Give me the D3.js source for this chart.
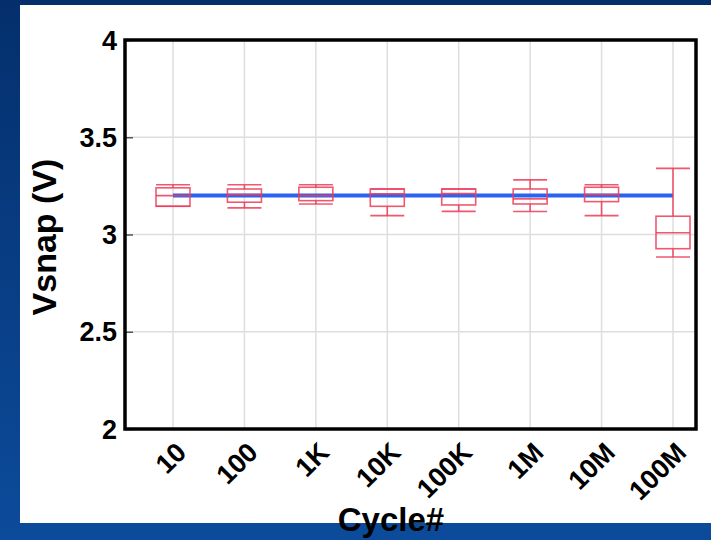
<!DOCTYPE html>
<meta charset="utf-8">
<head>
  <title>Vsnap vs cycle</title>
</head>

<style>
body {
  margin: 0;
  font-family: "Liberation Sans", Arial, sans-serif;
}
text {
  fill: #000;
  font-weight: bold;
}
</style>

<body>
  <svg id="chart" width="711" height="540"></svg>

  <script src="https://cdnjs.cloudflare.com/ajax/libs/d3/7.8.5/d3.min.js"></script>

  <script>
  var categories = ['10', '100', '1K', '10K', '100K', '1M', '10M', '100M'];
  var whiskerHigh = [3.256, 3.256, 3.256, 3.234, 3.234, 3.281, 3.256, 3.340];
  var q3 = [3.240, 3.234, 3.243, 3.234, 3.234, 3.234, 3.243, 3.094];
  var median = [3.200, 3.205, 3.200, 3.209, 3.210, 3.183, 3.205, 3.009];
  var q1 = [3.145, 3.166, 3.174, 3.145, 3.152, 3.157, 3.169, 2.927];
  var whiskerLow = [3.145, 3.137, 3.157, 3.097, 3.119, 3.118, 3.097, 2.884];
  var meanLine = [3.2, 3.2, 3.2, 3.2, 3.2, 3.2, 3.2, 3.2];
  var yTicks = [2, 2.5, 3, 3.5, 4];

  var svg = d3.select('#chart');

  // slide background
  var defs = svg.append('defs');
  var grad = defs.append('linearGradient')
    .attr('id', 'bg')
    .attr('x1', 0).attr('y1', 0).attr('x2', 0).attr('y2', 1);
  grad.append('stop').attr('offset', '0%').attr('stop-color', '#042f6c');
  grad.append('stop').attr('offset', '100%').attr('stop-color', '#0c4b9b');

  svg.append('rect')
    .attr('width', 711).attr('height', 540)
    .attr('fill', 'url(#bg)');
  svg.append('rect')
    .attr('x', 20).attr('y', 5)
    .attr('width', 691).attr('height', 518)
    .attr('fill', '#fff');

  var plot = { left: 125, right: 696, top: 40, bottom: 429 };

  var x = d3.scalePoint()
    .domain(categories)
    .range([plot.left + 48, plot.right - 23]);

  var y = d3.scaleLinear()
    .domain([2, 4])
    .range([plot.bottom, plot.top]);

  // grid
  svg.append('g')
    .selectAll('line')
    .data(categories)
    .enter()
    .append('line')
    .attr('x1', function(d) { return x(d); })
    .attr('x2', function(d) { return x(d); })
    .attr('y1', plot.top)
    .attr('y2', plot.bottom)
    .attr('stroke', '#dedede')
    .attr('stroke-width', 1.5);

  svg.append('g')
    .selectAll('line')
    .data(yTicks)
    .enter()
    .append('line')
    .attr('x1', plot.left)
    .attr('x2', plot.right)
    .attr('y1', function(d) { return y(d); })
    .attr('y2', function(d) { return y(d); })
    .attr('stroke', '#dedede')
    .attr('stroke-width', 1.5);

  // y axis
  var yAxis = svg.append('g')
    .attr('transform', 'translate(' + plot.left + ',0)')
    .call(d3.axisRight(y).tickValues(yTicks).tickSize(8).tickFormat(''));
  yAxis.select('.domain').remove();
  yAxis.selectAll('.tick line').attr('stroke', '#555').attr('stroke-width', 1.5);

  svg.append('g')
    .selectAll('text')
    .data(yTicks)
    .enter()
    .append('text')
    .attr('x', plot.left - 8)
    .attr('y', function(d) { return y(d); })
    .attr('dy', '0.36em')
    .attr('text-anchor', 'end')
    .style('font-size', '27px')
    .text(function(d) { return d3.format('~g')(d); });

  // x tick labels
  svg.append('g')
    .selectAll('text')
    .data(categories)
    .enter()
    .append('text')
    .attr('transform', function(d) {
      return 'translate(' + (x(d) + 15) + ',' + (plot.bottom + 25) + ') rotate(-45)';
    })
    .attr('text-anchor', 'end')
    .style('font-size', '27px')
    .text(function(d) { return d; });

  // mean line
  var line = d3.line()
    .x(function(d, i) { return x(categories[i]); })
    .y(function(d) { return y(d); });

  svg.append('path')
    .datum(meanLine)
    .attr('d', line)
    .attr('fill', 'none')
    .attr('stroke', '#2a62f4')
    .attr('stroke-width', 4);

  // box plots
  var boxW = 34;
  var red = '#ee3b57';
  var boxes = svg.append('g')
    .selectAll('g')
    .data(categories)
    .enter()
    .append('g')
    .attr('fill', 'none')
    .attr('stroke', red)
    .attr('stroke-opacity', 0.85)
    .attr('stroke-width', 1.6);

  boxes.append('line')
    .attr('x1', function(d) { return x(d); })
    .attr('x2', function(d) { return x(d); })
    .attr('y1', function(d, i) { return y(whiskerHigh[i]); })
    .attr('y2', function(d, i) { return y(q3[i]); });
  boxes.append('line')
    .attr('x1', function(d) { return x(d); })
    .attr('x2', function(d) { return x(d); })
    .attr('y1', function(d, i) { return y(q1[i]); })
    .attr('y2', function(d, i) { return y(whiskerLow[i]); });
  boxes.append('line')
    .attr('x1', function(d) { return x(d) - boxW / 2; })
    .attr('x2', function(d) { return x(d) + boxW / 2; })
    .attr('y1', function(d, i) { return y(whiskerHigh[i]); })
    .attr('y2', function(d, i) { return y(whiskerHigh[i]); });
  boxes.append('line')
    .attr('x1', function(d) { return x(d) - boxW / 2; })
    .attr('x2', function(d) { return x(d) + boxW / 2; })
    .attr('y1', function(d, i) { return y(whiskerLow[i]); })
    .attr('y2', function(d, i) { return y(whiskerLow[i]); });
  boxes.append('rect')
    .attr('x', function(d) { return x(d) - boxW / 2; })
    .attr('width', boxW)
    .attr('y', function(d, i) { return y(q3[i]); })
    .attr('height', function(d, i) { return y(q1[i]) - y(q3[i]); });
  boxes.append('line')
    .attr('x1', function(d) { return x(d) - boxW / 2; })
    .attr('x2', function(d) { return x(d) + boxW / 2; })
    .attr('y1', function(d, i) { return y(median[i]); })
    .attr('y2', function(d, i) { return y(median[i]); });

  // frame
  svg.append('rect')
    .attr('x', plot.left)
    .attr('y', plot.top)
    .attr('width', plot.right - plot.left)
    .attr('height', plot.bottom - plot.top)
    .attr('fill', 'none')
    .attr('stroke', '#000')
    .attr('stroke-width', 3.5);

  // axis titles
  svg.append('text')
    .attr('transform', 'translate(56,237) rotate(-90)')
    .attr('text-anchor', 'middle')
    .style('font-size', '34px')
    .text('Vsnap (V)');

  svg.append('text')
    .attr('x', 391)
    .attr('y', 531)
    .attr('text-anchor', 'middle')
    .style('font-size', '33px')
    .text('Cycle#');
  </script>
</body>
</html>
